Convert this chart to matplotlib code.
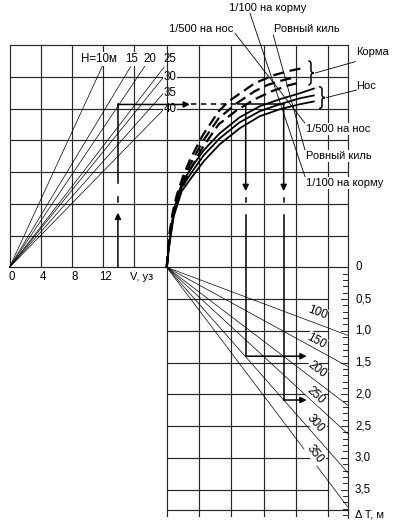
import numpy as np
import matplotlib
matplotlib.use('Agg')
import matplotlib.pyplot as plt
from matplotlib.path import Path
from matplotlib.patches import PathPatch

plt.rcParams['font.family'] = ['Liberation Sans', 'DejaVu Sans']
FS = 8

# ---------------- data ----------------
# upper-left quadrant: speed V (knots), depth H rays
V_TICKS = [0, 4, 8, 12]
V_TICK_LABELS = ['0', '4', '8', '12']
V_GRID = [0, 4, 8, 12, 16]
H_LABELS = ['H=10м', '15', '20', '25', '30', '35', '40']
H_END_V = [11.92, 15.58, 17.37, 19.81, 19.72, 19.72, 19.64]
H_END_Y = [3.17, 3.17, 3.17, 3.15, 2.99, 2.74, 2.47]

# lower-right quadrant: squat dT (m) vs ship length rays
DT_TICKS = [0, 0.5, 1.0, 1.5, 2.0, 2.5, 3.0, 3.5]
DT_LABELS = ['0', '0,5', '1,0', '1,5', '2,0', '2,5', '3,0', '3,5']
L_VALUES = ['100', '150', '200', '250', '300', '350']
L_DT_END = [1.07, 1.56, 2.17, 2.62, 3.23, 3.77]

# upper-right quadrant: curves (grid cells, same vertical units)
NOSE_G = [0, 0.062, 0.217, 0.464, 0.774, 1.146, 1.641, 2.260, 2.879, 3.498, 4.118, 4.582]
NOSE_1500 = [0, 0.315, 0.898, 1.323, 1.575, 1.843, 2.110, 2.362, 2.535, 2.646, 2.740, 2.819]
NOSE_EVEN = [0, 0.299, 0.850, 1.260, 1.496, 1.764, 2.031, 2.283, 2.457, 2.567, 2.661, 2.709]
NOSE_1100 = [0, 0.283, 0.803, 1.197, 1.417, 1.669, 1.937, 2.189, 2.378, 2.488, 2.567, 2.614]

STERN1_G = [0, 0.093, 0.186, 0.310, 0.495, 0.712, 1.115, 1.610, 1.920, 2.322, 2.724, 3.313, 3.746, 4.180]
STERN1_Y = [0, 0.551, 0.866, 1.134, 1.417, 1.685, 2.079, 2.457, 2.614, 2.756, 2.898, 3.024, 3.087, 3.134]
STERN2_G = [0, 0.093, 0.186, 0.310, 0.495, 0.712, 1.115, 1.610, 2.167, 2.724, 3.096, 3.467, 3.963]
STERN2_Y = [0, 0.520, 0.819, 1.071, 1.339, 1.606, 1.984, 2.346, 2.583, 2.772, 2.866, 2.929, 2.992]
STERN3_G = [0, 0.093, 0.186, 0.310, 0.495, 0.712, 1.115, 1.610, 2.167, 2.724, 3.251, 3.777, 4.025]
STERN3_Y = [0, 0.488, 0.772, 1.008, 1.260, 1.528, 1.890, 2.252, 2.472, 2.646, 2.772, 2.866, 2.898]

# worked example
EX_V = 13.9
EX_Y = 2.564
EX_G = [2.446, 3.622]
EX_DT = [1.40, 2.09]

# ---------------- figure ----------------
fig = plt.figure(figsize=(3.99, 5.29), dpi=100)
ax1 = fig.add_axes([0, 0, 1, 1])
ax2 = fig.add_axes([0, 0, 1, 1])
YL = (-4.121, 4.209)
ax1.set_xlim(-1.218, 49.936); ax1.set_ylim(*YL)
ax2.set_xlim(-5.161, 7.192); ax2.set_ylim(*YL)
for a in (ax1, ax2):
    a.set_axis_off()
    a.patch.set_alpha(0)


def g2v(g):
    p = ax2.transData.transform((g, 0))
    return ax1.transData.inverted().transform(p)[0]


G_EDGE = 5.622
GC = '#262626'
GLW = 0.85
K = 'black'

# ---- grid ----
x_right_v = g2v(G_EDGE)
for y in np.arange(0.5, 3.51, 0.5):
    ax1.plot([0, x_right_v], [y, y], color=GC, lw=GLW, zorder=1)
ax1.plot([0, x_right_v], [0, 0], color=GC, lw=GLW, zorder=1)
for v in V_GRID:
    ax1.plot([v, v], [0, 3.5], color=GC, lw=GLW, zorder=1)
for g in range(6):
    ax2.plot([g, g], [3.5, -3.92], color=GC, lw=GLW, zorder=1)
ax2.plot([G_EDGE, G_EDGE], [3.5, -3.95], color=GC, lw=GLW, zorder=1)
for y in np.arange(0.5, 3.51, 0.5):
    ax2.plot([0, 5], [-y, -y], color=GC, lw=GLW, zorder=1)
ax2.plot([0, G_EDGE], [-3.82, -3.82], color=GC, lw=GLW, zorder=1)

# dT axis ticks
for t in np.arange(0, 3.91, 0.1):
    major = abs(t / 0.5 - round(t / 0.5)) < 1e-6
    ln = 0.22 if major else 0.16
    ax2.plot([G_EDGE - ln, G_EDGE], [-t, -t], color=GC, lw=0.7, zorder=1)
for t, lab in zip(DT_TICKS, DT_LABELS):
    ax2.text(5.83, -t, lab, fontsize=8.3, ha='left', va='center')
ax2.text(5.83, -3.89, 'Δ T, м', fontsize=FS, ha='left', va='center')

# ---- V axis labels ----
for v, lab in zip(V_TICKS, V_TICK_LABELS):
    ax1.text(v + 0.35, -0.16, lab, fontsize=8.3, ha='center', va='center')
ax1.text(16.9, -0.16, 'V, уз', fontsize=FS, ha='center', va='center')

# ---- H rays ----
H_POS = [(11.45, 3.276), (15.7, 3.276), (18.0, 3.276), (20.6, 3.276),
         (20.6, 3.0), (20.6, 2.745), (20.6, 2.50)]
for lab, ve, ye, (tx, ty) in zip(H_LABELS, H_END_V, H_END_Y, H_POS):
    ax1.plot([0, ve], [0, ye], color=K, lw=0.5, zorder=2)
    ax1.text(tx, ty, lab, fontsize=8.3, ha='center', va='center', zorder=3,
             bbox=dict(fc='white', ec='none', pad=0.6))

# ---- length rays ----
L_POS = [(4.653, -0.712), (4.644, -1.157), (4.644, -1.617),
         (4.613, -2.011), (4.613, -2.457), (4.591, -2.940)]
for lab, dt, (tx, ty) in zip(L_VALUES, L_DT_END, L_POS):
    ax2.plot([0, 5.6], [0, -dt], color=K, lw=0.5, zorder=2)
    ang = np.degrees(np.arctan2(-dt, 5.6))
    ax2.text(tx, ty, lab, fontsize=8.5, ha='center', va='center', rotation=ang,
             rotation_mode='anchor', transform_rotates_text=True, zorder=3,
             bbox=dict(fc='white', ec='none', pad=0.3))

# ---- curves ----
for yy in (NOSE_1500, NOSE_EVEN, NOSE_1100):
    ax2.plot(NOSE_G, yy, color=K, lw=1.3, zorder=4, solid_capstyle='butt')
for gg, yy in ((STERN1_G, STERN1_Y), (STERN2_G, STERN2_Y), (STERN3_G, STERN3_Y)):
    ax2.plot(gg, yy, color=K, lw=1.6, zorder=4, dashes=(5, 2.5), dash_capstyle='butt')

# ---- leaders and annotations ----
LEAD = [((2.115, 3.685), (4.282, 2.268)),
        ((3.300, 3.658), (4.282, 1.847)),
        ((2.579, 4.000), (4.282, 1.427))]
for (x0, y0), (x1, y1) in LEAD:
    ax2.plot([x0, x1], [y0, y1], color=K, lw=0.6, zorder=3)
ax2.text(3.136, 4.076, '1/100 на корму', fontsize=FS, ha='center', va='center')
ax2.text(1.062, 3.745, '1/500 на нос', fontsize=FS, ha='center', va='center')
ax2.text(4.344, 3.745, 'Ровный киль', fontsize=FS, ha='center', va='center')
bb = dict(fc='white', ec='none', pad=0.5)
ax2.text(4.313, 2.176, '1/500 на нос', fontsize=FS, ha='left', va='center', zorder=3, bbox=bb)
ax2.text(4.313, 1.753, 'Ровный киль', fontsize=FS, ha='left', va='center', zorder=3, bbox=bb)
ax2.text(4.313, 1.328, '1/100 на корму', fontsize=FS, ha='left', va='center', zorder=3, bbox=bb)
ax2.text(6.387, 3.39, 'Корма', fontsize=FS, ha='center', va='center')
ax2.text(6.170, 2.855, 'Нос', fontsize=FS, ha='center', va='center')
ax2.plot([4.60, 5.839], [3.06, 3.238], color=K, lw=0.6, zorder=3)
ax2.plot([4.94, 5.883], [2.672, 2.792], color=K, lw=0.6, zorder=3)


def brace(ax, x0, x1, ytop, ybot):
    xm = (x0 + x1) / 2
    ym = (ytop + ybot) / 2
    r = (ytop - ybot) * 0.12
    verts = [(x0, ytop), (xm, ytop), (xm, ytop - r), (xm, ym + r), (xm, ym), (x1, ym),
             (xm, ym), (xm, ym - r), (xm, ybot + r), (xm, ybot), (x0, ybot)]
    codes = [Path.MOVETO, Path.CURVE3, Path.CURVE3, Path.LINETO, Path.CURVE3, Path.CURVE3,
             Path.CURVE3, Path.CURVE3, Path.LINETO, Path.CURVE3, Path.CURVE3]
    ax.add_patch(PathPatch(Path(verts, codes), fc='none', ec=K, lw=1.1, zorder=4))


brace(ax2, 4.384, 4.55, 3.249, 2.871)
brace(ax2, 4.715, 4.90, 2.844, 2.499)

# ---- worked example arrows ----
AP = dict(arrowstyle='-|>', color=K, lw=1.1, mutation_scale=9, shrinkA=0, shrinkB=0)
ax1.annotate('', xy=(EX_V, 0.86), xytext=(EX_V, 0), arrowprops=AP, zorder=5)
ax1.plot([EX_V, EX_V], [1.03, 1.11], color=K, lw=1.1, zorder=5)
ax1.plot([EX_V, EX_V], [1.33, EX_Y], color=K, lw=1.1, zorder=5)
ax1.annotate('', xy=(23.14, EX_Y), xytext=(EX_V, EX_Y), arrowprops=AP, zorder=5)
ax2.plot([0.76, 2.21], [EX_Y, EX_Y], color=K, lw=1.1, dashes=(3.5, 3), zorder=5)
ax2.plot([2.21, EX_G[1]], [EX_Y, EX_Y], color=K, lw=1.1, zorder=5)
for g, dt in zip(EX_G, EX_DT):
    ax2.annotate('', xy=(g, 1.20), xytext=(g, EX_Y), arrowprops=AP, zorder=5)
    ax2.plot([g, g], [1.028, 1.091], color=K, lw=1.1, zorder=5)
    ax2.plot([g, g], [0.824, -dt], color=K, lw=1.1, zorder=5)
    ax2.annotate('', xy=(4.334, -dt), xytext=(g, -dt), arrowprops=AP, zorder=5)

fig.savefig('out.png', dpi=100, facecolor='white')
